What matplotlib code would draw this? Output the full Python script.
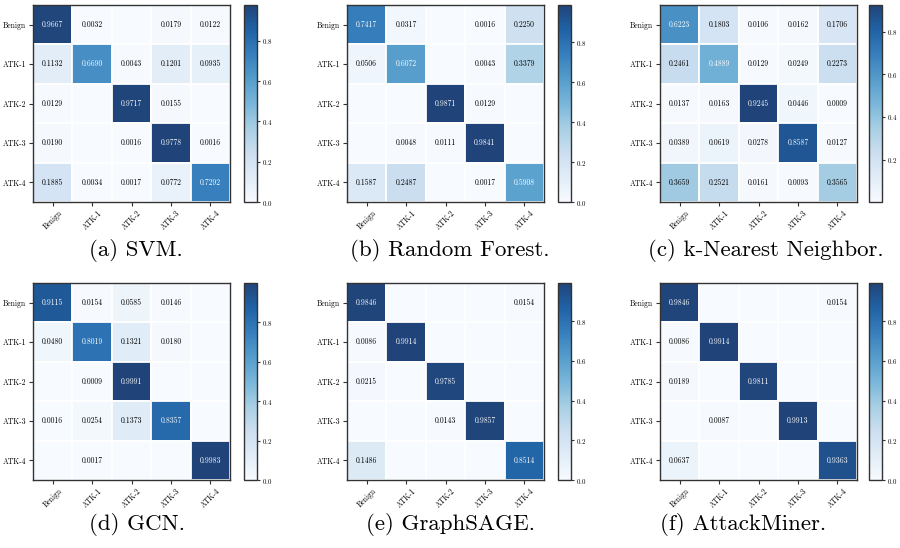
import matplotlib
matplotlib.use('Agg')
import matplotlib.pyplot as plt
import numpy as np

plt.rcParams['font.family'] = ['cmr10', 'DejaVu Serif']
plt.rcParams['mathtext.fontset'] = 'cm'
plt.rcParams['axes.formatter.use_mathtext'] = True

labels = ['Benign', 'ATK-1', 'ATK-2', 'ATK-3', 'ATK-4']

svm = [[0.9667, 0.0032, 0, 0.0179, 0.0122],
       [0.1132, 0.6690, 0.0043, 0.1201, 0.0935],
       [0.0129, 0, 0.9717, 0.0155, 0],
       [0.0190, 0, 0.0016, 0.9778, 0.0016],
       [0.1885, 0.0034, 0.0017, 0.0772, 0.7292]]

rf = [[0.7417, 0.0317, 0, 0.0016, 0.2250],
      [0.0506, 0.6072, 0, 0.0043, 0.3379],
      [0, 0, 0.9871, 0.0129, 0],
      [0, 0.0048, 0.0111, 0.9841, 0],
      [0.1587, 0.2487, 0, 0.0017, 0.5908]]

knn = [[0.6223, 0.1803, 0.0106, 0.0162, 0.1706],
       [0.2461, 0.4889, 0.0129, 0.0249, 0.2273],
       [0.0137, 0.0163, 0.9245, 0.0446, 0.0009],
       [0.0389, 0.0619, 0.0278, 0.8587, 0.0127],
       [0.3659, 0.2521, 0.0161, 0.0093, 0.3565]]

gcn = [[0.9115, 0.0154, 0.0585, 0.0146, 0],
       [0.0480, 0.8019, 0.1321, 0.0180, 0],
       [0, 0.0009, 0.9991, 0, 0],
       [0.0016, 0.0254, 0.1373, 0.8357, 0],
       [0, 0.0017, 0, 0, 0.9983]]

sage = [[0.9846, 0, 0, 0, 0.0154],
        [0.0086, 0.9914, 0, 0, 0],
        [0.0215, 0, 0.9785, 0, 0],
        [0, 0, 0.0143, 0.9857, 0],
        [0.1486, 0, 0, 0, 0.8514]]

miner = [[0.9846, 0, 0, 0, 0.0154],
         [0.0086, 0.9914, 0, 0, 0],
         [0.0189, 0, 0.9811, 0, 0],
         [0, 0.0087, 0, 0.9913, 0],
         [0.0637, 0, 0, 0, 0.9363]]

matrices = [svm, rf, knn, gcn, sage, miner]
captions = ['(a) SVM.', '(b) Random Forest.', '(c) k-Nearest Neighbor.',
            '(d) GCN.', '(e) GraphSAGE.', '(f) AttackMiner.']

W, H = 900, 548
fig = plt.figure(figsize=(W / 100, H / 100), dpi=100)

# pixel boxes: heatmap left, colorbar left, caption centre x
col_left = [33, 347, 660]
cbar_left = [244, 558, 869]
cap_x = [136, 450, 766, 137, 450, 743]
row_top = [5, 283]
cap_y = [250, 525]
size = 197
spine_col = '#333333'

for i, m in enumerate(matrices):
    r, c = divmod(i, 3)
    m = np.array(m)
    top = row_top[r]
    ax = fig.add_axes([col_left[c] / W, (H - top - size) / H, size / W, size / H])
    cax = fig.add_axes([cbar_left[c] / W, (H - top - size) / H, 13 / W, size / H])

    mesh = ax.pcolormesh(m, cmap='Blues', alpha=0.9, edgecolors='white', linewidth=0.3)
    ax.set_xlim(0, 5)
    ax.set_ylim(5, 0)
    ax.set_xticks(np.arange(5) + 0.5)
    ax.set_yticks(np.arange(5) + 0.5)
    ax.set_xticklabels(labels, rotation=45, fontsize=5.5)
    ax.set_yticklabels(labels, fontsize=5.5)
    ax.tick_params(length=3, width=0.8, color=spine_col, pad=2)
    for s in ax.spines.values():
        s.set_color(spine_col)
        s.set_linewidth(1.0)

    thresh = (m.max() + m.min()) / 2
    for y in range(5):
        for x in range(5):
            v = m[y, x]
            if v == 0:
                continue
            ax.text(x + 0.5, y + 0.5, '%.4f' % v, ha='center', va='center',
                    fontsize=5.5, color='white' if v > thresh else 'black')

    cb = fig.colorbar(mesh, cax=cax)
    cb.set_ticks([t for t in [0.0, 0.2, 0.4, 0.6, 0.8] if t >= m.min()])
    cb.ax.tick_params(labelsize=5, length=2, width=0.8, color=spine_col, pad=1.5)
    cb.outline.set_edgecolor(spine_col)
    cb.outline.set_linewidth(1.0)

    fig.text(cap_x[i] / W, 1 - cap_y[r] / H, captions[i], ha='center', va='center',
             fontsize=16.5)

fig.savefig('out.png', dpi=100)
